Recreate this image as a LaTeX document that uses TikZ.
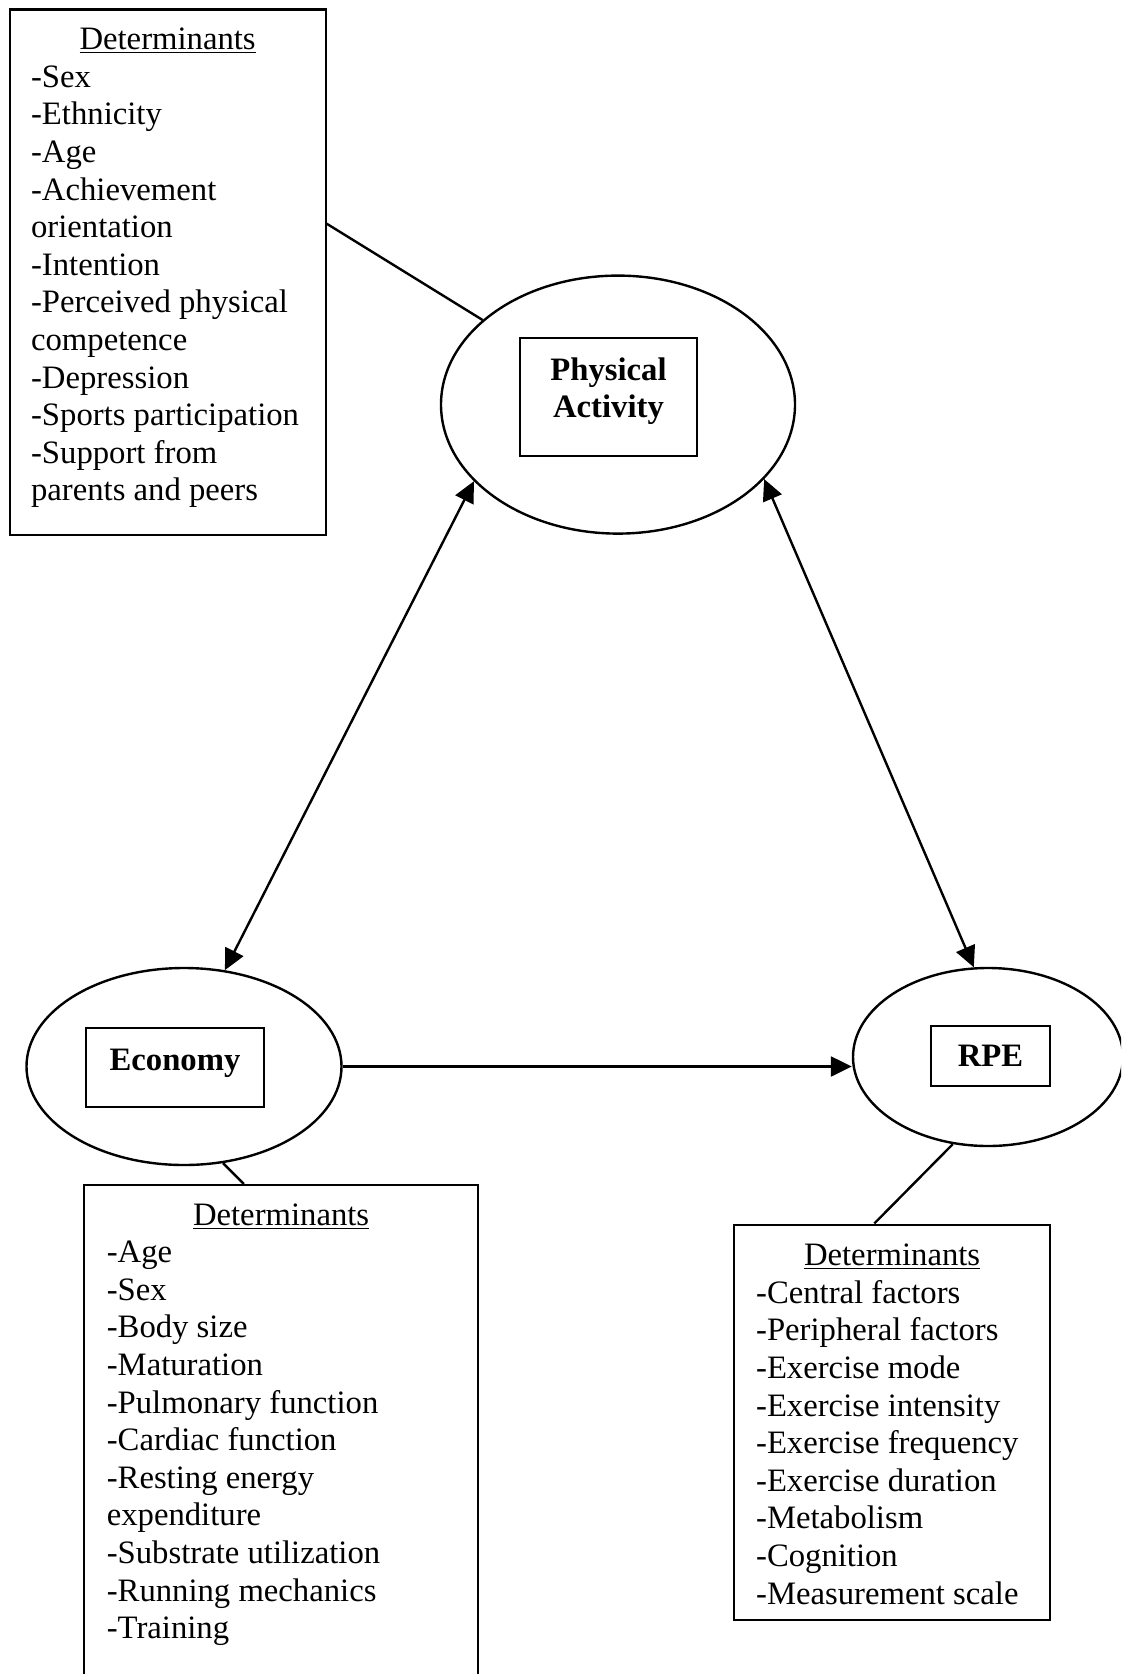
\documentclass[tikz,border=0pt]{standalone}
\usepackage{fontspec}
\setmainfont{Liberation Serif}
\usepackage{tikz}
\usetikzlibrary{arrows.meta, calc, shapes.geometric, positioning}
\newcommand{\detlist}[3]{%
	\parbox[t][#2][t]{#1}{\raggedright
		\centerline{\underline{Determinants}}#3}}

\begin{document}
\begin{tikzpicture}[
				x=0.5pt, y=-0.5pt,
				texts/.style = {font=\fontsize{16.35pt}{18.8pt}\selectfont},
				boldtexts/.style = {font=\fontsize{16.35pt}{18.75pt}\selectfont\bfseries},
				detbox/.style = {texts, draw, line width=1.1pt, rectangle, anchor=north west, inner ysep=9.2pt},
				factor/.style = {draw, ellipse, line width=1.2pt, inner sep=0pt},
				factorbox/.style = {boldtexts, draw, line width=1.1pt, rectangle, align=center, inner sep=0pt},
				link/.style = {line width=1.2pt},
				oneway/.style = {link, -{Triangle[length=10.5pt, width=10pt]}},
				twoway/.style = {link, {Triangle[length=10.5pt, width=10pt]}-{Triangle[length=10.5pt, width=10pt]}}
				]
				\useasboundingbox (0,0) rectangle (1121,1674);
				\clip (0,0) rectangle (1121,1674);

				\node[factor, minimum width=177pt, minimum height=129pt] (pa) at (618,404.6) {};
				\node[factorbox, minimum width=88.5pt, minimum height=59pt] (pabox) at (608.5,397)
					{Physical\\Activity\rule[-9.25pt]{0pt}{9.25pt}};
				\node[factor, minimum width=157.5pt, minimum height=98.5pt] (economy) at (184,1066.5) {};
				\node[factorbox, minimum width=89pt, minimum height=39.5pt] (ecobox) at (175,1067.5)
					{Economy\rule[-7.75pt]{0pt}{7.75pt}};
				\node[factor, minimum width=135pt, minimum height=89pt] (rpe) at (988,1057) {};
				\node[factorbox, minimum width=59.5pt, minimum height=30pt] (rpebox) at (990.5,1056) {RPE};

				\node[detbox, inner xsep=10.75pt] (padet) at (8.5,8.5) {\detlist{136.5pt}{244.35pt}{%
					-Sex\\-Ethnicity\\-Age\\-Achievement\\orientation\\-Intention\\-Perceived physical\\competence\\-Depression\\-Sports participation\\-Support from\\parents and peers}};
				\node[detbox, inner xsep=11.35pt] (ecodet) at (83,1184) {\detlist{174.3pt}{270pt}{%
					-Age\\-Sex\\-Body size\\-Maturation\\-Pulmonary function\\-Cardiac function\\-Resting energy\\expenditure\\-Substrate utilization\\-Running mechanics\\-Training}};
				\node[detbox, inner xsep=11pt, inner ysep=9.7pt] (rpedet) at (733,1223.5) {\detlist{136pt}{178.35pt}{%
					-Central factors\\-Peripheral factors\\-Exercise mode\\-Exercise intensity\\-Exercise frequency\\-Exercise duration\\-Metabolism\\-Cognition\\-Measurement scale}};

				\draw[link] (padet.17) -- (pa.148);
				\draw[twoway] (pa.208) -- (economy.67);
				\draw[twoway] (pa.333) -- (rpe.99);
				\draw[oneway] (economy.east) -- (economy.east -| rpe.west);
				\draw[link] (economy.292) -- ($(ecodet.north west)!0.406!(ecodet.north east)$);
				\draw[link] (rpe.248) -- ($(rpedet.north west)!0.444!(rpedet.north east)$);
				\end{tikzpicture}
\end{document}
